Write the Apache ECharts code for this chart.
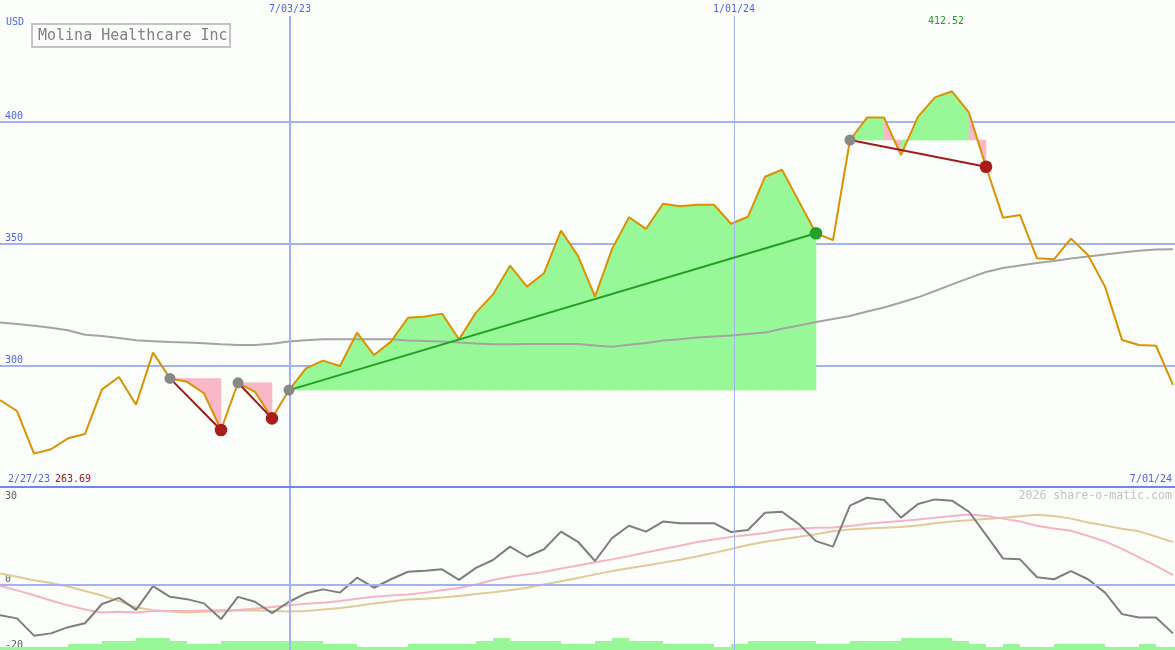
<!DOCTYPE html>
<html><head><meta charset="utf-8">
<script src="https://cdn.jsdelivr.net/npm/echarts@6/dist/echarts.min.js"></script>
<style>html,body{margin:0;padding:0;background:#fcfefc}#c{width:1175px;height:650px}</style>
</head><body><div id="c"></div>
<script>
// ---- data (weekly) ----
const price = [285.7, 281.2, 263.7, 265.5, 270.0, 271.8, 290.1, 295.2, 283.8, 305.2,
  294.6, 293.2, 288.5, 273.4, 292.8, 289.1, 278.2, 289.8, 298.7, 301.9,
  299.7, 313.4, 304.2, 309.7, 319.5, 320.0, 321.2, 310.7, 321.6, 329.1,
  340.9, 332.3, 337.8, 355.3, 344.9, 328.2, 347.7, 360.8, 356.0, 366.3,
  365.3, 365.9, 365.9, 358.1, 361.0, 377.4, 380.3, 367.2, 354.2, 351.4,
  392.5, 401.7, 401.7, 386.3, 402.1, 410.0, 412.5, 403.7, 381.5, 360.6,
  361.7, 343.9, 343.5, 352.0, 345.3, 332.3, 310.4, 308.3, 308.0, 291.9];
const movingAvg = [317.6, 316.9, 316.2, 315.4, 314.4, 312.5, 312.0, 311.2, 310.3, 309.9,
  309.5, 309.3, 309.0, 308.6, 308.3, 308.3, 308.8, 309.8, 310.3, 310.7,
  310.7, 310.7, 310.7, 310.7, 310.2, 310.0, 309.8, 309.3, 308.9, 308.6,
  308.6, 308.7, 308.7, 308.7, 308.7, 308.1, 307.6, 308.4, 309.1, 310.2,
  310.7, 311.4, 311.8, 312.2, 312.8, 313.4, 315.0, 316.3, 317.8, 319.0,
  320.2, 322.1, 323.7, 325.8, 327.9, 330.5, 333.2, 335.8, 338.3, 339.9,
  341.0, 342.0, 342.8, 343.8, 344.7, 345.5, 346.3, 347.0, 347.5, 347.6];
const oscGray = [-9.3, -10.3, -15.6, -14.9, -13.0, -11.8, -5.9, -4.0, -7.7, -0.4,
  -3.7, -4.4, -5.7, -10.5, -3.7, -5.2, -8.7, -5.2, -2.6, -1.4,
  -2.4, 2.2, -0.9, 1.7, 4.0, 4.3, 4.75, 1.5, 5.2, 7.6,
  11.7, 8.6, 10.9, 16.3, 13.2, 7.3, 14.3, 18.1, 16.3, 19.4,
  18.9, 18.9, 18.9, 16.2, 16.8, 22.1, 22.4, 18.6, 13.4, 11.7,
  24.3, 26.7, 26.0, 20.6, 24.8, 26.2, 25.8, 22.4, 15.3, 8.1,
  7.8, 2.3, 1.7, 4.2, 1.7, -2.4, -9.0, -10.0, -10.0, -14.9];
const oscPink = [-0.3, -1.7, -3.2, -4.8, -6.3, -7.6, -8.5, -8.3, -8.5, -8.0,
  -8.0, -8.0, -7.9, -7.8, -7.7, -7.3, -6.8, -6.3, -5.8, -5.5,
  -5.0, -4.3, -3.7, -3.3, -3.0, -2.4, -1.7, -1.0, 0.1, 1.5,
  2.5, 3.2, 3.9, 5.0, 5.95, 6.9, 7.8, 8.8, 9.9, 11.0,
  12.0, 13.1, 13.9, 14.7, 15.3, 15.9, 16.8, 17.3, 17.5, 17.6,
  18.0, 18.7, 19.2, 19.6, 20.0, 20.6, 21.1, 21.6, 21.1, 20.3,
  19.4, 18.1, 17.3, 16.6, 15.0, 13.3, 11.0, 8.4, 5.8, 3.0];
const oscTan = [3.5, 2.5, 1.4, 0.55, -0.5, -1.9, -3.3, -5.0, -6.9, -7.8,
  -8.2, -8.5, -8.3, -8.2, -7.9, -7.8, -8.0, -8.2, -8.0, -7.6,
  -7.1, -6.5, -5.7, -5.1, -4.5, -4.3, -3.9, -3.4, -2.8, -2.3,
  -1.7, -0.9, 0.1, 1.1, 2.1, 3.2, 4.2, 5.1, 5.95, 6.8,
  7.7, 8.7, 9.8, 11.0, 12.2, 13.2, 14.0, 14.75, 15.5, 16.4,
  17.0, 17.3, 17.5, 17.7, 18.2, 18.9, 19.4, 19.8, 20.2, 20.6,
  21.0, 21.5, 21.1, 20.3, 19.1, 18.2, 17.2, 16.4, 14.8, 13.1];
const volume = [1,1,1,1,2,2,3,3,4,4,
  3,2,2,3,3,3,3,3,3,2,
  2,1,1,1,2,2,2,2,3,4,
  3,3,3,2,2,3,4,3,3,2,
  2,2,1,2,3,3,3,3,2,2,
  3,3,3,4,4,4,3,2,1,2,
  1,1,2,2,2,1,1,2,1,1];
// trend segments: [start week, end week]
const trends = [[10,13],[14,16],[17,48],[50,58]];
const dateTickPos = [17.06, 43.18];
const dateTickLabels = ['7/03/23', '1/01/24'];
const startDate = '2/27/23', endDate = '7/01/24';
const lowLabel = '263.69', highLabel = '412.52';
const titleText = 'Molina Healthcare Inc';
const currency = 'USD';
const credit = '2026 share-o-matic.com';

// ---- chart ----
const MONO = '"DejaVu Sans Mono", "Liberation Mono", monospace';
const BLUE_TXT = '#5262ee', GRID = '#a4b2f2', SEP = '#7484f0';
const GREEN_FILL = '#98f898', PINK_FILL = '#f8b8c8';
const XMAX = 1175 / 17;
const pairs = a => a.map((v, i) => [i, v]);
const segs = [];
trends.forEach((t, k) => { for (let j = t[0]; j < t[1]; j++) segs.push([j, k]); });
const volData = pairs(volume); volData.push([volume.length, volume[volume.length - 1]]);

const chart = echarts.init(document.getElementById('c'));
chart.setOption({
  backgroundColor: '#fcfefc',
  animation: false,
  title: {
    text: titleText, left: 32, top: 24, padding: [5, 3, 3, 6],
    borderColor: '#c4c4c4', borderWidth: 2,
    textStyle: { fontFamily: MONO, fontSize: 15, fontWeight: 'normal', color: '#808080' }
  },
  grid: [
    { left: 0, right: 0, top: 0, height: 487 },
    { left: 0, right: 0, top: 487, height: 163 }
  ],
  xAxis: [
    { type: 'value', gridIndex: 0, min: 0, max: XMAX, show: false },
    { type: 'value', gridIndex: 1, min: 0, max: XMAX, show: false }
  ],
  yAxis: [
    { type: 'value', gridIndex: 0, position: 'left', min: 250, max: 450, interval: 50,
      axisLine: { show: false }, axisTick: { show: false },
      splitLine: { show: true, showMinLine: false, showMaxLine: false, lineStyle: { color: GRID, width: 2 } },
      axisLabel: { inside: true, margin: 5, verticalAlign: 'bottom', color: BLUE_TXT, fontFamily: MONO, fontSize: 10,
        formatter: v => (v === 250 || v === 450) ? '' : String(v) } },
    { type: 'value', gridIndex: 1, position: 'left', offset: 0, min: -20, max: 30, interval: 10,
      axisLine: { show: false }, axisTick: { show: false }, splitLine: { show: false },
      axisLabel: { inside: true, margin: 5, verticalAlign: 'bottom', color: '#606060', fontFamily: MONO, fontSize: 10,
        showMinLabel: true, formatter: v => (v === 0 || v === -20) ? String(v) : '' } },
    { type: 'value', gridIndex: 1, position: 'left', offset: 0, min: -20, max: 30, interval: 10,
      axisLine: { show: false }, axisTick: { show: false }, splitLine: { show: false },
      axisLabel: { inside: true, margin: 5, verticalAlign: 'top', padding: [4, 0, 0, 0], color: '#606060', fontFamily: MONO, fontSize: 10,
        showMaxLabel: true, formatter: v => v === 30 ? String(v) : '' } },
    { type: 'value', gridIndex: 1, position: 'right', min: 0, max: 54, show: false }
  ],
  series: [
    { // date lines in price pane
      type: 'line', xAxisIndex: 0, yAxisIndex: 0, data: [], z: 1,
      markLine: { silent: true, symbol: 'none', animation: false,
        data: dateTickPos.map((p, i) => [
          { coord: [p, 443.4], lineStyle: { color: GRID, width: i === 0 ? 2 : 1, type: 'solid' },
            label: { show: true, position: 'start', distance: 2, formatter: dateTickLabels[i], color: BLUE_TXT, fontFamily: MONO, fontSize: 10 } },
          { coord: [p, 250] }
        ]) }
    },
    { // gain / loss fills
      type: 'custom', xAxisIndex: 0, yAxisIndex: 0, z: 2, data: segs, silent: true,
      renderItem: (params, api) => {
        const j = api.value(0), k = api.value(1);
        const base = price[trends[k][0]];
        const p1 = price[j + 1];
        const pts = [api.coord([j, base]), api.coord([j, price[j]]), api.coord([j + 1, p1]), api.coord([j + 1, base])];
        const c = p1 >= base ? GREEN_FILL : PINK_FILL;
        return { type: 'polygon', shape: { points: pts }, style: { fill: c, stroke: c, lineWidth: 0.6 } };
      }
    },
    { type: 'line', xAxisIndex: 0, yAxisIndex: 0, z: 3, data: pairs(movingAvg), symbol: 'none',
      lineStyle: { color: '#a4a4a4', width: 2 } },
    { type: 'line', xAxisIndex: 0, yAxisIndex: 0, z: 4, data: pairs(price), symbol: 'none',
      lineStyle: { color: '#dc9200', width: 2 } },
    { // trend lines with markers
      type: 'custom', xAxisIndex: 0, yAxisIndex: 0, z: 5, data: trends, silent: true,
      renderItem: (params, api) => {
        const s = api.value(0), e = api.value(1);
        const a = api.coord([s, price[s]]), b = api.coord([e, price[e]]);
        const up = price[e] > price[s];
        return { type: 'group', children: [
          { type: 'line', shape: { x1: a[0], y1: a[1], x2: b[0], y2: b[1] }, style: { stroke: up ? '#22a022' : '#a01c1c', lineWidth: 2 } },
          { type: 'circle', shape: { cx: a[0], cy: a[1], r: 5.5 }, style: { fill: '#888888' } },
          { type: 'circle', shape: { cx: b[0], cy: b[1], r: 6.3 }, style: { fill: up ? '#28a028' : '#a81c1c' } }
        ] };
      }
    },
    { // lower pane grid lines
      type: 'line', xAxisIndex: 1, yAxisIndex: 1, data: [], z: 1,
      markLine: { silent: true, symbol: 'none', animation: false, label: { show: false },
        data: [
          { yAxis: 0, lineStyle: { color: GRID, width: 2, type: 'solid' } },
          { xAxis: dateTickPos[0], lineStyle: { color: GRID, width: 2, type: 'solid' } },
          { xAxis: dateTickPos[1], lineStyle: { color: GRID, width: 1, type: 'solid' } },
          { yAxis: 30, lineStyle: { color: SEP, width: 2, type: 'solid' } }
        ] }
    },
    { type: 'line', xAxisIndex: 1, yAxisIndex: 3, z: 2, data: volData, step: 'end', symbol: 'none',
      lineStyle: { width: 0 }, areaStyle: { color: GREEN_FILL, opacity: 1, origin: 'start' } },
    { type: 'line', xAxisIndex: 1, yAxisIndex: 1, z: 3, data: pairs(oscTan), symbol: 'none',
      lineStyle: { color: '#e2ca98', width: 2 } },
    { type: 'line', xAxisIndex: 1, yAxisIndex: 1, z: 3, data: pairs(oscPink), symbol: 'none',
      lineStyle: { color: '#f8b2c8', width: 2 } },
    { type: 'line', xAxisIndex: 1, yAxisIndex: 1, z: 4, data: pairs(oscGray), symbol: 'none',
      lineStyle: { color: '#7e7e7e', width: 2 } }
  ],
  graphic: [
    { type: 'text', left: 6, top: 17, z: 10, style: { text: currency, fill: BLUE_TXT, font: '10px ' + MONO } },
    { type: 'text', left: 8, top: 474, z: 10, style: { text: startDate, fill: BLUE_TXT, font: '10px ' + MONO } },
    { type: 'text', left: 55, top: 474, z: 10, style: { text: lowLabel, fill: '#a01c1c', font: '10px ' + MONO } },
    { type: 'text', right: 3, top: 474, z: 10, style: { text: endDate, fill: BLUE_TXT, font: '10px ' + MONO } },
    { type: 'text', left: 928, top: 16, z: 10, style: { text: highLabel, fill: '#22a022', font: '10px ' + MONO } },
    { type: 'text', right: 3, top: 490, z: 10, style: { text: credit, fill: '#c4c4c4', font: '11.6px ' + MONO } }
  ]
});
</script>
</body></html>
